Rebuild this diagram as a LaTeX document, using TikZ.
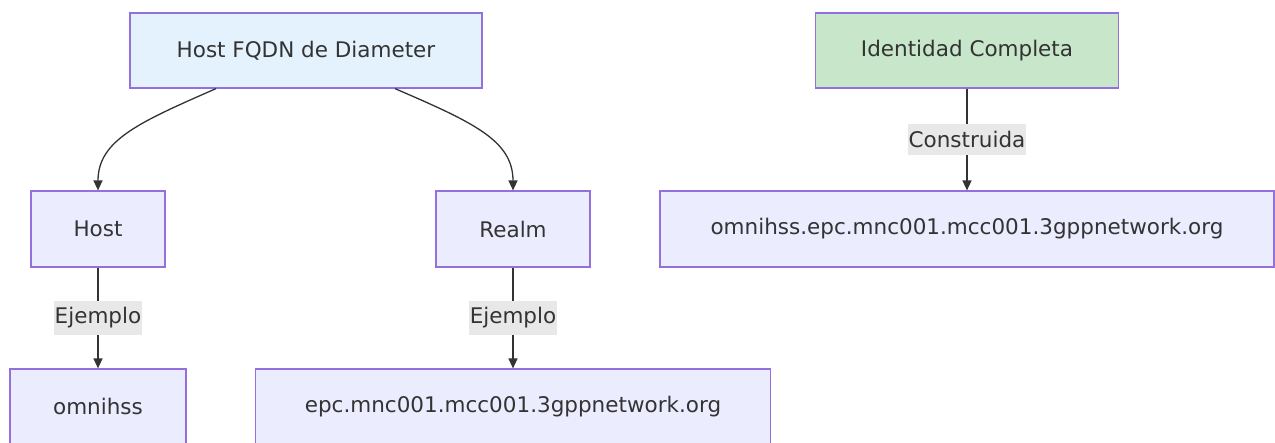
\documentclass[tikz,border=0pt]{standalone}
\usepackage{fontspec}
\setmainfont{DejaVu Sans}
\usetikzlibrary{arrows.meta}
\definecolor{nodefill}{HTML}{ECECFF}
\definecolor{nodeborder}{HTML}{9370DB}
\definecolor{bluefill}{HTML}{E3F2FD}
\definecolor{greenfill}{HTML}{C8E6C9}
\definecolor{edgecol}{HTML}{333333}
\definecolor{txtcol}{HTML}{333333}
\definecolor{lblbg}{HTML}{E8E8E8}
\begin{document}
\begin{tikzpicture}[x=1pt,y=-1pt,
  box/.style={draw=nodeborder, line width=1.2pt, fill=nodefill, rectangle, inner sep=0pt,
    text=txtcol, font=\fontsize{21.5pt}{25pt}\selectfont, anchor=center},
  conn/.style={draw=edgecol, line width=1.3pt, -{Triangle[length=10pt,width=9pt]}},
  elabel/.style={fill=lblbg, text=txtcol, inner xsep=1pt, inner ysep=7pt,
    font=\fontsize{21.5pt}{25pt}\selectfont}
]
\useasboundingbox (0,0) rectangle (1275,443);
\fill[white] (0,0) rectangle (1275,443);

\node[box, fill=bluefill, minimum width=352pt, minimum height=75pt] (fqdn) at (306,50.5) {Host FQDN de Diameter};
\node[box, fill=greenfill, minimum width=303pt, minimum height=75pt] (ident) at (967,50.5) {Identidad Completa};
\node[box, minimum width=134pt, minimum height=76pt] (host) at (98,229) {Host};
\node[box, minimum width=154pt, minimum height=76pt] (realm) at (513,229) {Realm};
\node[box, minimum width=614pt, minimum height=76pt] (full) at (967,229) {omnihss.epc.mnc001.mcc001.3gppnetwork.org};
\node[box, minimum width=176pt, minimum height=75pt] (omni) at (98,406.5) {omnihss};
\node[box, minimum width=515pt, minimum height=75pt] (epc) at (513,406.5) {epc.mnc001.mcc001.3gppnetwork.org};

\draw[conn] ([xshift=-90pt]fqdn.south) .. controls (140,122) and (98,140) .. (host.north);
\draw[conn] ([xshift=89pt]fqdn.south) .. controls (472,122) and (513,140) .. (realm.north);

\draw[conn] (ident.south) -- node[elabel] {Construida} (full.north);
\draw[conn] (host.south) -- node[elabel] {Ejemplo} (omni.north);
\draw[conn] (realm.south) -- node[elabel] {Ejemplo} (epc.north);
\end{tikzpicture}
\end{document}
